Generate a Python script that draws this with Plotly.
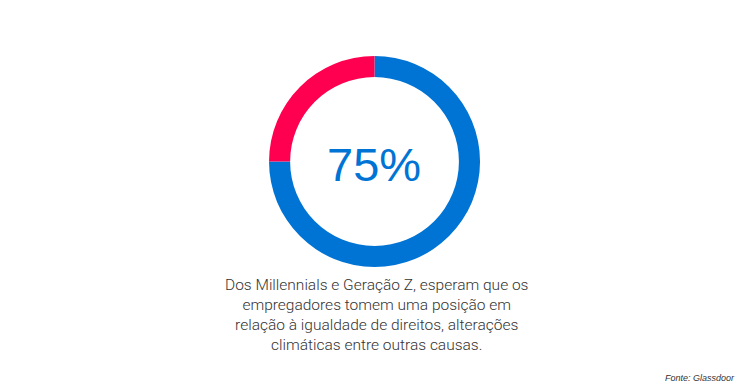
import plotly.graph_objects as go

labels = ["Esperam posição", "Outros"]
values = [75, 25]
colors = ["#0074D4", "#FF0050"]
center_text = "75%"
caption_lines = [
    "Dos Millennials e Geração Z, esperam que os",
    "empregadores tomem uma posição em",
    "relação à igualdade de direitos, alterações",
    "climáticas entre outras causas.",
]
source = "Fonte: Glassdoor"

# page body has an 8px default margin, so the figure is 734x375
W, H = 734, 375

fig = go.Figure(go.Pie(
    labels=labels, values=values, hole=0.8, sort=False,
    direction="clockwise", rotation=0,
    marker=dict(colors=colors, line=dict(width=0)),
    textinfo="none", hoverinfo="label+percent",
    domain=dict(x=[0.3556, 0.6431], y=[0.3093, 0.872]),
    showlegend=False,
))

fig.add_annotation(text=center_text, x=0.4986, y=0.584, xref="paper", yref="paper",
                   showarrow=False, xanchor="center", yanchor="middle",
                   font=dict(family="Liberation Sans, Arial", size=47, color="#0074D4"))
fig.add_annotation(text="<br>".join(caption_lines), x=0.5014, y=0.1813, xref="paper", yref="paper",
                   showarrow=False, xanchor="center", yanchor="middle", align="center",
                   font=dict(family="Roboto", size=15.5, color="#333333", weight=300))
fig.add_annotation(text="<i>" + source + "</i>", x=0.9932, y=0.0133, xref="paper", yref="paper",
                   showarrow=False, xanchor="right", yanchor="middle",
                   font=dict(family="Liberation Sans, Arial", size=9, color="#333333"))

fig.update_layout(width=W, height=H, margin=dict(l=0, r=0, t=0, b=0),
                  paper_bgcolor="white", plot_bgcolor="white")
fig.write_html("out.html")
